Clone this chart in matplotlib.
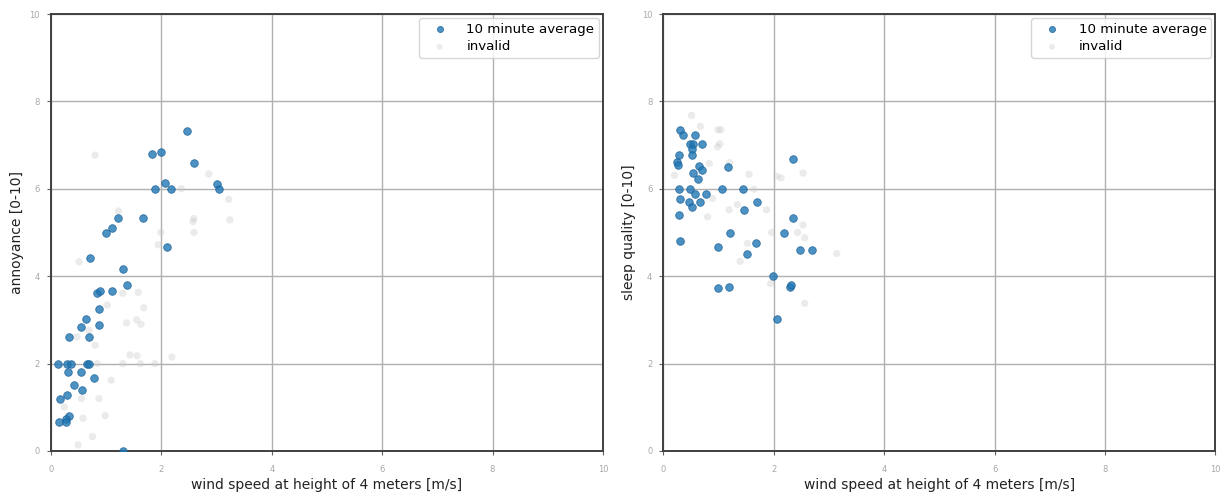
import matplotlib
matplotlib.use("Agg")
import matplotlib.pyplot as plt
import numpy as np

# Annoyance vs wind speed
ann_x = [2.47, 1.83, 1.99, 2.59, 2.06, 1.89, 2.17, 3.01, 3.05, 1.21, 1.67, 1.10,
         0.99, 2.11, 0.70, 1.30, 1.37, 1.10, 0.84, 0.88, 0.87, 0.63, 0.55, 0.87,
         0.33, 0.69, 0.13, 0.29, 0.36, 0.66, 0.69, 0.30, 0.55, 0.78, 0.42, 0.57,
         0.29, 0.16, 0.33, 0.28, 0.14, 0.28, 1.30]
ann_y = [7.33, 6.80, 6.84, 6.60, 6.14, 6.00, 6.00, 6.12, 6.00, 5.33, 5.33, 5.11,
         5.00, 4.66, 4.42, 4.16, 3.79, 3.67, 3.61, 3.66, 3.26, 3.01, 2.84, 2.88,
         2.61, 2.61, 2.00, 2.00, 2.00, 2.00, 2.00, 1.80, 1.80, 1.66, 1.50, 1.39,
         1.28, 1.19, 0.80, 0.74, 0.66, 0.66, 0.00]
ann_inv_x = [0.80, 0.51, 1.22, 2.36, 2.86, 3.22, 3.24, 2.59, 2.57, 2.59, 1.99, 1.94,
             1.30, 1.58, 1.68, 1.02, 1.37, 1.55, 1.63, 0.69, 0.80, 1.43, 1.56, 2.19,
             1.30, 1.62, 1.88, 0.84, 1.09, 0.87, 0.24, 0.55, 0.98, 0.58, 0.75, 0.49,
             0.47]
ann_inv_y = [6.77, 4.33, 5.49, 6.00, 6.34, 5.76, 5.29, 5.32, 5.25, 5.00, 5.00, 4.72,
             3.61, 3.63, 3.28, 3.34, 2.93, 3.00, 2.90, 2.76, 2.42, 2.20, 2.18, 2.15,
             2.00, 2.00, 2.00, 2.00, 1.62, 1.20, 1.01, 1.20, 0.81, 0.75, 0.33, 0.14,
             2.61]

# Sleep quality vs wind speed
slp_x = [0.30, 0.36, 0.58, 0.49, 0.53, 0.70, 0.51, 0.51, 0.29, 0.25, 0.26, 0.65,
         0.70, 0.54, 0.62, 1.17, 2.35, 0.29, 0.49, 1.07, 1.45, 0.58, 0.77, 0.30,
         0.47, 0.52, 0.67, 1.70, 1.46, 0.29, 2.34, 1.20, 2.18, 0.30, 0.99, 1.68,
         1.52, 2.47, 2.70, 1.99, 0.99, 1.18, 2.29, 2.31, 2.05]
slp_y = [7.35, 7.23, 7.23, 7.03, 7.03, 7.03, 6.92, 6.77, 6.78, 6.61, 6.54, 6.52,
         6.42, 6.36, 6.22, 6.51, 6.69, 6.00, 6.00, 6.00, 6.00, 5.88, 5.88, 5.77,
         5.70, 5.58, 5.69, 5.69, 5.51, 5.41, 5.34, 5.00, 5.00, 4.81, 4.67, 4.76,
         4.50, 4.61, 4.61, 4.00, 3.72, 3.75, 3.76, 3.81, 3.02]
slp_inv_x = [0.51, 0.67, 0.99, 1.04, 1.02, 0.98, 0.83, 1.20, 1.55, 2.05, 2.13, 2.53,
             0.20, 1.64, 0.89, 1.19, 1.34, 1.87, 0.80, 1.96, 2.43, 2.53, 2.56, 3.14,
             1.52, 1.39, 1.94, 2.56, 0.34]
slp_inv_y = [7.68, 7.43, 7.35, 7.35, 7.03, 6.96, 6.58, 6.60, 6.33, 6.29, 6.25, 6.36,
             6.31, 5.99, 5.78, 5.52, 5.64, 5.52, 5.36, 5.00, 5.00, 5.17, 4.88, 4.52,
             4.75, 4.34, 3.83, 3.38, 4.79]

xlabel = "wind speed at height of 4 meters [m/s]"
ticks = [0, 2, 4, 6, 8, 10]

fig = plt.figure(figsize=(12.32, 4.95), dpi=100)
ax1 = fig.add_axes([0.0414, 0.0889, 0.448, 0.8828])
ax2 = fig.add_axes([0.5385, 0.0889, 0.448, 0.8828])

panels = [
    (ax1, ann_x, ann_y, ann_inv_x, ann_inv_y, "annoyance [0-10]"),
    (ax2, slp_x, slp_y, slp_inv_x, slp_inv_y, "sleep quality [0-10]"),
]

for ax, x, y, ix, iy, ylab in panels:
    ax.scatter(ix, iy, s=28, color="#c8c8c8", alpha=0.35, edgecolors="none",
               label="invalid", zorder=2)
    ax.scatter(x, y, s=30, color="#1f77b4", alpha=0.8, edgecolors="#1a5f96",
               linewidths=0.6, label="10 minute average", zorder=3)
    ax.set_xlim(0, 10)
    ax.set_ylim(0, 10)
    ax.set_xticks(ticks)
    ax.set_yticks(ticks)
    ax.grid(True, color="#b0b0b0", linewidth=1.0, zorder=0)
    ax.set_axisbelow(True)
    ax.tick_params(axis="x", pad=7)
    ax.tick_params(axis="y", pad=5)
    ax.tick_params(labelsize=6, labelcolor="#a8a8a8", color="#606060", length=3)
    for s in ax.spines.values():
        s.set_color("#404040")
        s.set_linewidth(1.4)
    ax.set_xlabel(xlabel, fontsize=10, color="#222222", labelpad=3)
    ax.set_ylabel(ylab, fontsize=10, color="#222222", labelpad=4)
    handles, labels = ax.get_legend_handles_labels()
    ax.legend(handles[::-1], labels[::-1], loc="upper right", fontsize=9.6,
              markerscale=0.8, handletextpad=0.8, borderpad=0.35,
              labelspacing=0.35, borderaxespad=0.3, handlelength=2.4)

fig.savefig("out.png", dpi=100)
